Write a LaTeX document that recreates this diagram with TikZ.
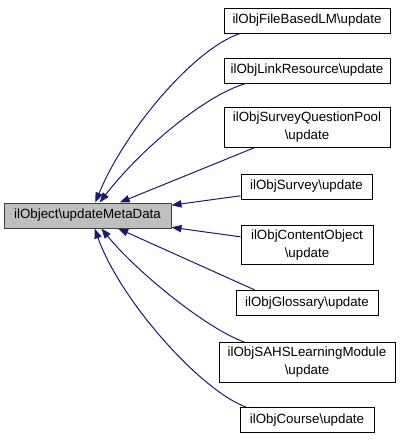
\documentclass[tikz,border=0pt]{standalone}
\usepackage{fontspec}
\setmainfont{Liberation Sans}
\usetikzlibrary{arrows.meta}
\definecolor{edgeblue}{HTML}{191970}
\definecolor{boxgray}{HTML}{BFBFBF}

\begin{document}
\begin{tikzpicture}
		[x=0.75pt,y=-0.75pt,every node/.style={draw=black,fill=white,line width=0.75pt,inner sep=0pt,minimum height=18.75pt,align=center,font=\fontsize{10}{13.5}\selectfont},
		twoline/.style={minimum height=29.6pt},
		call/.style={draw=edgeblue,line width=0.75pt,-{Triangle[length=7.5pt,width=5.5pt,fill=edgeblue]}}]
		\useasboundingbox (0,0) rectangle (401,440);
		%\node (front) at (0,0) {};
		\node[fill=boxgray,draw=black!75,minimum width=125.25pt] (u0) at (87.5,215.5) {ilObject\textbackslash updateMetaData};
		\node[minimum width=124.5pt] (u1) at (307,20.5)  {ilObjFileBasedLM\textbackslash update};
		\node[minimum width=124.5pt] (u2) at (307,70.5)  {ilObjLinkResource\textbackslash update};
		\node[minimum width=124.5pt,twoline] (u3) at (307,127.5) {ilObjSurveyQuestionPool\\\textbackslash update};
		\node[minimum width=98.25pt] (u4) at (306.5,186.5) {ilObjSurvey\textbackslash update};
		\node[minimum width=99pt,twoline] (u5) at (307,245) {ilObjContentObject\\\textbackslash update};
		\node[minimum width=106.5pt] (u6) at (307,303)  {ilObjGlossary\textbackslash update};
		\node[minimum width=132pt,twoline] (u7) at (307,362.5) {ilObjSAHSLearningModule\\\textbackslash update};
		\node[minimum width=100.5pt] (u8) at (307,420)  {ilObjCourse\textbackslash update};
		%curved calls
		\draw[call] (u1.191) .. controls (195,48) and (125,130) .. (u0.59);
		\draw[call] (u2.192) .. controls (205,95) and (140,150) .. (u0.47);
		\draw[call] (u7.162) .. controls (205,328) and (135,270) .. (u0.-43);
		\draw[call] (u8.168) .. controls (200,390) and (120,300) .. (u0.-61);
		%straight calls
		\foreach \from/\to in {u3.201/u0.22,u4.188/u0.7,u5.173/u0.-8,u6.166/u0.-23}
		\draw[call]  (\from) -- (\to);
	\end{tikzpicture}
\end{document}
